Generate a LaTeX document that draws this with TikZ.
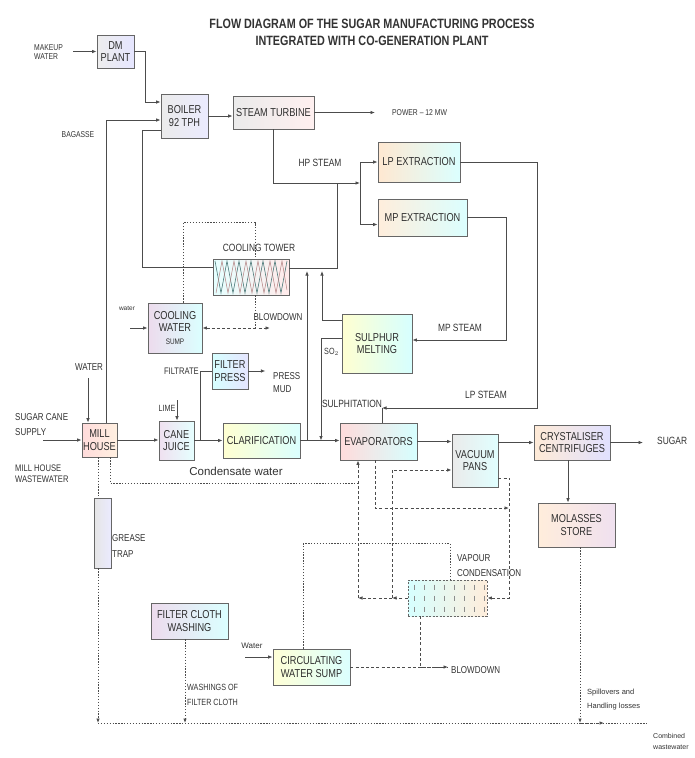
\documentclass[tikz,border=0pt]{standalone}
\usepackage{fontspec}
\setmainfont{Liberation Sans}[FakeStretch=0.8]
\newfontfamily\plainfont{Liberation Sans}
\usetikzlibrary{arrows.meta,calc}
\tikzset{
  ln/.style={draw=black!70, line width=0.8pt},
  tip/.style={-{Latex[length=4.5pt,width=3.6pt]}},
  arr/.style={ln, tip},
  dotl/.style={ln, dash pattern=on 1.3pt off 1.6pt},
  dashl/.style={ln, line width=0.9pt, dash pattern=on 3pt off 2.2pt},
  box/.style={draw=black!60, line width=0.9pt, inner sep=0pt, align=center,
    font=\fontsize{11.5}{12.5}\selectfont, text=black!82,
    left color=red!12!white, right color=cyan!12!white},
  lab/.style={inner sep=0pt, align=left, font=\fontsize{10}{11}\selectfont, text=black!80},
}
\begin{document}
\begin{tikzpicture}[x=1pt,y=-1pt]
\useasboundingbox (0,0) rectangle (695,758);
\fill[white] (0,0) rectangle (695,758);

% title
\node[font=\bfseries\fontsize{13.5}{17}\selectfont, align=center, text=black!80, inner sep=0pt] (title) at (372,32.5)
  {FLOW DIAGRAM OF THE SUGAR MANUFACTURING PROCESS\\INTEGRATED WITH CO-GENERATION PLANT};

% boxes
\node[box, minimum width=37pt, minimum height=33pt, left color=black!7, right color=blue!10] (dm) at (115.5,51.5) {DM\\PLANT};
\node[box, minimum width=47pt, minimum height=44pt, left color=black!8, right color=blue!8] (boiler) at (184.5,116) {BOILER\\92 TPH};
\node[box, minimum width=81pt, minimum height=33pt, left color=black!8, right color=red!6] (turb) at (273.5,112.5) {STEAM TURBINE};
\node[box, minimum width=82pt, minimum height=40pt, left color=orange!18, right color=cyan!14] (lp) at (419,162) {LP EXTRACTION};
\node[box, minimum width=89pt, minimum height=37pt, left color=orange!14, right color=cyan!14] (mp) at (422.5,217.5) {MP EXTRACTION};
\node[box, minimum width=76pt, minimum height=36pt, left color=cyan!10, right color=red!8] (ct) at (251,277) {};
\node[box, minimum width=54pt, minimum height=50pt, left color=violet!14, right color=cyan!14] (cws) at (175,328) {COOLING\\WATER\\{\fontsize{8}{9}\selectfont SUMP}};
\node[box, minimum width=36pt, minimum height=36pt, left color=cyan!16, right color=blue!10] (fp) at (230,371) {FILTER\\PRESS};
\node[box, minimum width=70pt, minimum height=59pt, left color=yellow!18, right color=cyan!16] (sm) at (377,343.5) {SULPHUR\\MELTING};
\node[box, minimum width=35pt, minimum height=34pt, left color=red!14, right color=orange!12] (mill) at (99.5,440) {MILL\\HOUSE};
\node[box, minimum width=35pt, minimum height=39pt, left color=violet!12, right color=cyan!10] (cj) at (176.5,440.5) {CANE\\JUICE};
\node[box, minimum width=77pt, minimum height=35pt, left color=yellow!18, right color=cyan!14] (cl) at (261.5,440.5) {CLARIFICATION};
\node[box, minimum width=77pt, minimum height=37pt, left color=red!14, right color=cyan!16] (ev) at (378.5,441.5) {EVAPORATORS};
\node[box, minimum width=46pt, minimum height=53pt, left color=black!8, right color=cyan!12] (vp) at (475,460.5) {VACUUM\\PANS};
\node[box, minimum width=76pt, minimum height=35pt, left color=orange!16, right color=blue!12] (cr) at (572,442.5) {CRYSTALISER\\CENTRIFUGES};
\node[box, minimum width=77pt, minimum height=44pt, left color=orange!14, right color=violet!12] (ms) at (576.5,525) {MOLASSES\\STORE};
\node[box, minimum width=17pt, minimum height=70pt, left color=black!10, right color=blue!8] (gt) at (102.5,533) {};
\node[box, minimum width=77pt, minimum height=36pt, left color=violet!14, right color=cyan!14] (fcw) at (189.5,621) {FILTER CLOTH\\WASHING};
\node[box, minimum width=77pt, minimum height=36pt, left color=yellow!16, right color=cyan!14] (cws2) at (311.5,667) {CIRCULATING\\WATER SUMP};
\node[box, dash pattern=on 2pt off 1.5pt, minimum width=79pt, minimum height=36pt, left color=cyan!16, right color=orange!14] (vc) at (447.5,598) {};

% cooling tower zigzag
\draw[line width=0.6pt, teal!50!black!70] (215,261)--(221,293)--(227,261)--(233,293)--(239,261)--(245,293)--(251,261)--(257,293)--(263,261)--(269,293)--(275,261)--(281,293)--(287,261);
\draw[line width=0.5pt, red!40!black!50] (216,293)--(222,261)--(228,293)--(234,261)--(240,293)--(246,261)--(252,293)--(258,261)--(264,293)--(270,261)--(276,293)--(282,261)--(287,290);
% vapour condensation pattern
\foreach \xx in {414,424,...,484}{\foreach \yy in {587,598,609}{
  \draw[black!45, line width=0.5pt] (\xx,\yy-2.5) -- (\xx,\yy+2.5);}}

% coordinates
\coordinate (mwA) at (73,51.5);
\coordinate (wA) at (88,378);
\coordinate (scA) at (43,440);
\coordinate (limeA) at (177,400);
\coordinate (ftA) at (200,440.5);
\coordinate (cwA) at (130,328);
\coordinate (bdA) at (270,328);
\coordinate (pwA) at (375,112.5);
\coordinate (hpJ) at (360,183);
\coordinate (hpK) at (337,183);
\coordinate (u1) at (307,271);
\coordinate (u2) at (322,271);
\coordinate (so2) at (321,440.5);
\coordinate (lpE) at (382,408);
\coordinate (sgA) at (643,442.5);
\coordinate (bL) at (98,723);
\coordinate (bR) at (580,723);
\coordinate (bA) at (604,723);
\coordinate (bE) at (648,723);
\coordinate (cdA) at (358,483);
\coordinate (vcJ) at (392,598);
\coordinate (evC) at (358,598);
\coordinate (vpV) at (509,508);
\coordinate (bd2) at (448,667);
\coordinate (wcA) at (245,657);

% upper connectors
\draw[arr] (mwA) -- (dm.west);
\draw[arr] (dm.east) -- ++(11,0) |- ([yshift=14pt]boiler.west);
\draw[arr] ([xshift=6.5pt]mill.north) |- ([yshift=-4pt]boiler.west);
\draw[ln] ([yshift=10pt]ct.west) -- ++(-70,0) |- ([yshift=-14pt]boiler.west);
\draw[arr] (boiler.east) -- (boiler.east -| turb.west);
\draw[arr] (turb.east) -- (pwA);
\draw[arr] (turb.south) |- (hpJ);
\draw[arr] (hpJ) |- (lp.west);
\draw[arr] (hpJ) |- ([yshift=-7pt]mp.west);
\draw[ln] ([yshift=9pt]ct.east) -| (hpK);
\draw[arr] (lp.east) -- ++(77,0) |- (lpE);
\draw[ln] (lpE) -- (lpE |- ev.north);
\draw[arr] (mp.east) -- ++(39,0) |- ([yshift=3.5pt]sm.east);
\draw[arr] (u1 |- cl.east) -- (u1);
\draw[arr] ([yshift=23.5pt]sm.west) -| (u2);
\draw[arr] ([yshift=5.5pt]sm.west) -| (so2);

% main line
\draw[arr] (scA) -- (mill.west);
\draw[arr] (mill.east) -- (mill.east -| cj.west);
\draw[arr] (cj.east) -- (cj.east -| cl.west);
\draw[arr] (cl.east) -- (cl.east -| ev.west);
\draw[arr] (ev.east) -- (ev.east -| vp.west);
\draw[arr] (vp.east |- cr.west) -- (cr.west);
\draw[arr] (cr.east) -- (sgA);
\draw[arr] ([xshift=-4pt]cr.south) -- ([xshift=-4pt]cr.south |- ms.north);
\draw[arr] (wA) -- (wA |- mill.north);
\draw[arr] (limeA) -- (limeA |- cj.north);
\draw[ln] (ftA) |- (fp.west);
\draw[arr] (fp.east) -- ++(17,0);
\draw[arr] (cwA) -- (cws.west);
\draw[dashl, {Latex[length=4.5pt,width=3.6pt]}-{Latex[length=4.5pt,width=3.6pt]}] (cws.east) -- (bdA);
\draw[dotl] ([xshift=4pt]ct.south) -- ([xshift=4pt]ct.south |- bdA);
\draw[dotl] ([xshift=8pt]cws.north) -- ++(0,-80) -| ([xshift=4pt]ct.north);

% wastewater lines
\draw[dotl] ([xshift=-1.5pt]mill.south) -- ([xshift=-1.5pt]mill.south |- gt.north);
\draw[dotl] ([xshift=10.5pt]mill.south) |- (cdA);
\draw[dotl, tip] ([xshift=-4.5pt]gt.south) -- ([xshift=-4.5pt]gt.south |- bL);
\draw[dotl] (bL) -- (bE);
\draw[dashl, tip] (bR) -- (bA);
\draw[dotl, tip] ([xshift=3.5pt]ms.south) -- ([xshift=3.5pt]ms.south |- bR);
\draw[dotl, tip] ([xshift=-4.5pt]fcw.south) -- ([xshift=-4.5pt]fcw.south |- bL);

% vapour / condensate
\draw[dashl, tip] (vc.west) -- (vcJ);
\draw[dashl, tip] (vcJ) -- (evC);
\draw[dashl, tip] (evC) -- (evC |- ev.south);
\draw[dashl, tip] (vcJ) |- ([yshift=-9.5pt]vp.west);
\draw[dashl, tip] ([xshift=-3.5pt]ev.south) |- (vpV);
\draw[dashl, tip] ([yshift=-17.5pt]vp.east) -- ++(11,0) |- (vc.east);
\draw[dashl] ([xshift=-27.5pt]vc.south) |- (bd2);
\draw[dashl, tip] (cws2.east) -- (bd2);
\draw[dotl] ([xshift=-8.5pt]cws2.north) -- ++(0,-105) -| ([xshift=2.5pt]vc.north);
\draw[arr] (wcA) -- (wcA -| cws2.west);

% labels
\node[lab, anchor=west, font=\fontsize{8.5}{9}\selectfont] (l1) at (34,52.5) {MAKEUP\\WATER};
\node[lab, font=\fontsize{8.5}{9}\selectfont] (l2) at (78,135) {BAGASSE};
\node[lab] (l3) at (89,367) {WATER};
\node[lab, anchor=west, font=\fontsize{10}{15}\selectfont] (l4) at (15,425) {SUGAR CANE\\SUPPLY};
\node[lab, anchor=west, font=\fontsize{9.5}{11}\selectfont] (l5) at (15,473.5) {MILL HOUSE\\WASTEWATER};
\node[lab, font=\plainfont\fontsize{11.5}{12}\selectfont] (l6) at (236,471) {Condensate water};
\node[lab, anchor=west, font=\fontsize{10}{16}\selectfont] (l7) at (112,546) {GREASE\\TRAP};
\node[lab, font=\fontsize{9}{10}\selectfont] (l8) at (167,408) {LIME};
\node[lab, anchor=east, font=\fontsize{9.5}{10}\selectfont] (l9) at (199,371) {FILTRATE};
\node[lab, anchor=west, font=\fontsize{10}{13}\selectfont] (l10) at (273,383) {PRESS\\MUD};
\node[lab, font=\plainfont\fontsize{6.5}{7}\selectfont] (l11) at (127,308) {water};
\node[lab] (l12) at (278,317) {BLOWDOWN};
\node[lab, font=\fontsize{10.5}{11}\selectfont] (l13) at (259,248) {COOLING TOWER};
\node[lab, font=\fontsize{10.5}{11}\selectfont] (l14) at (320,163) {HP STEAM};
\node[lab, anchor=west, font=\fontsize{8.5}{9}\selectfont] (l15) at (392,112.5) {POWER -- 12 MW};
\node[lab, font=\fontsize{10.5}{11}\selectfont] (l16) at (460,328) {MP STEAM};
\node[lab, font=\fontsize{10.5}{11}\selectfont] (l17) at (486,395) {LP STEAM};
\node[lab, font=\fontsize{10.5}{11}\selectfont] (l18) at (352,404) {SULPHITATION};
\node[lab, anchor=west, font=\fontsize{9}{10}\selectfont] (l19) at (324,352) {SO$_2$};
\node[lab, anchor=west, font=\fontsize{10.5}{11}\selectfont] (l20) at (657,441) {SUGAR};
\node[lab, anchor=west, font=\fontsize{10}{15}\selectfont] (l21) at (457,565.5) {VAPOUR\\CONDENSATION};
\node[lab, anchor=west] (l22) at (451,670) {BLOWDOWN};
\node[lab, anchor=west, font=\fontsize{9}{15}\selectfont] (l23) at (187,694.5) {WASHINGS OF\\FILTER CLOTH};
\node[lab, font=\plainfont\fontsize{8}{9}\selectfont] (l24) at (252,646) {Water};
\node[lab, anchor=west, font=\plainfont\fontsize{7.5}{14}\selectfont] (l25) at (587,700) {Spillovers and\\Handling losses};
\node[lab, anchor=west, font=\plainfont\fontsize{7}{11}\selectfont] (l26) at (653,741.5) {Combined\\wastewater};
\end{tikzpicture}
\end{document}
